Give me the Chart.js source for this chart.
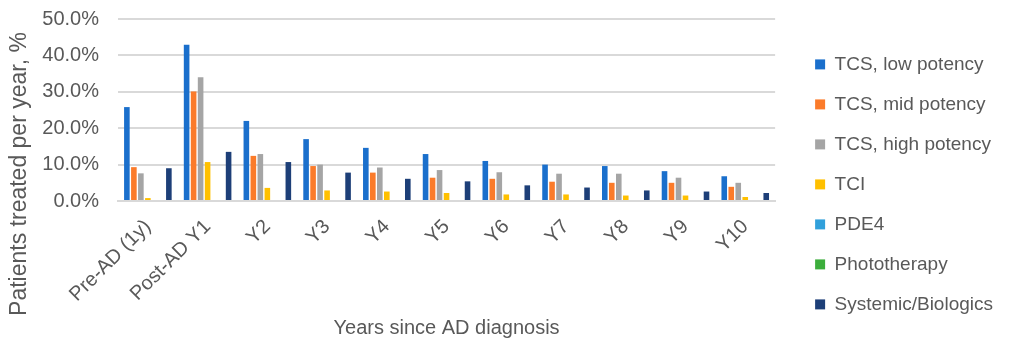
<!DOCTYPE html>
<html lang="en">
<head>
    <meta charset="UTF-8">
    <title>Treatment by year since AD diagnosis</title>
<style>
    html, body { margin: 0; padding: 0; background: #ffffff; }
    #chart-container { width: 1009px; height: 347px; }
</style>
</head>
<body>
    <div id="chart-container">
        <canvas id="treatChart"></canvas>
    </div>

    <script src="https://cdn.jsdelivr.net/npm/chart.js"></script>
    <script>
        // categories
        const categories = ['Pre-AD (1y)', 'Post-AD Y1', 'Y2', 'Y3', 'Y4', 'Y5', 'Y6', 'Y7', 'Y8', 'Y9', 'Y10'];

        // % of patients treated per year
        const tcsLow    = [25.8, 42.9, 22.0, 17.0, 14.6, 12.9, 11.0, 10.0, 9.6, 8.2, 6.8];
        const tcsMid    = [9.3, 30.1, 12.4, 9.6, 7.8, 6.4, 6.1, 5.3, 5.0, 5.0, 3.9];
        const tcsHigh   = [7.6, 34.0, 12.9, 10.0, 9.2, 8.5, 7.9, 7.5, 7.5, 6.4, 5.0];
        const tci       = [0.8, 10.7, 3.6, 2.9, 2.6, 2.2, 1.8, 1.8, 1.5, 1.5, 1.1];
        const pde4      = [0, 0, 0, 0, 0, 0, 0, 0, 0, 0, 0];
        const photo     = [0, 0, 0, 0, 0, 0, 0, 0, 0, 0, 0];
        const systemic  = [9.0, 13.5, 10.7, 7.8, 6.1, 5.4, 4.3, 3.7, 2.9, 2.6, 2.2];

        const yTicks = [0, 10, 20, 30, 40, 50];

        const textGray = '#595959';
        const fontFamily = 'Arial, "Liberation Sans", sans-serif';

        function makeSet(label, data, color) {
            return {
                label: label,
                data: data,
                backgroundColor: color,
                borderWidth: 0,
                categoryPercentage: 0.82,
                barPercentage: 0.8
            };
        }

        // y title drawn by hand so it can sit centred on the whole canvas height
        const yTitlePlugin = {
            id: 'yTitle',
            afterLayout(chart) {
                // leave a gap between plot and legend
                chart.legend.left += 19;
                chart.legend.right += 19;
            },
            afterDraw(chart) {
                const c = chart.ctx;
                c.save();
                c.translate(20, 174);
                c.rotate(-Math.PI / 2);
                c.textAlign = 'center';
                c.textBaseline = 'middle';
                c.fillStyle = textGray;
                c.font = '23px ' + fontFamily;
                c.fillText('Patients treated per year, %', 0, 0);
                c.restore();
            }
        };

        const ctx = document.getElementById('treatChart').getContext('2d');
        new Chart(ctx, {
            type: 'bar',
            data: {
                labels: categories,
                datasets: [
                    makeSet('TCS, low potency', tcsLow, '#1a6fcc'),
                    makeSet('TCS, mid potency', tcsMid, '#fb7b2a'),
                    makeSet('TCS, high potency', tcsHigh, '#a5a5a5'),
                    makeSet('TCI', tci, '#ffc000'),
                    makeSet('PDE4', pde4, '#31a0db'),
                    makeSet('Phototherapy', photo, '#3cae3c'),
                    makeSet('Systemic/Biologics', systemic, '#1d3f78')
                ]
            },
            options: {
                responsive: true,
                maintainAspectRatio: false,
                animation: false,
                layout: { padding: { top: 19, right: 25, left: 0, bottom: 4 } },
                scales: {
                    x: {
                        afterFit: axis => { axis.height = 142; },
                        grid: { display: false, drawTicks: false },
                        border: { display: true, color: '#d9d9d9', width: 2 },
                        ticks: {
                            color: textGray,
                            font: { family: fontFamily, size: 20 },
                            minRotation: 45,
                            maxRotation: 45,
                            padding: 14
                        },
                        title: {
                            display: true,
                            text: 'Years since AD diagnosis',
                            color: textGray,
                            font: { family: fontFamily, size: 20 },
                            padding: { top: 0, bottom: 3 }
                        }
                    },
                    y: {
                        min: 0,
                        max: 50,
                        afterBuildTicks: axis => {
                            axis.ticks = yTicks.map(v => ({ value: v }));
                        },
                        afterFit: axis => {
                            axis.width = 118;
                            axis.paddingTop = 0;
                        },
                        grid: { color: '#d9d9d9', lineWidth: 2, drawTicks: false },
                        border: { display: false },
                        ticks: {
                            color: textGray,
                            font: { family: fontFamily, size: 20 },
                            padding: 19,
                            callback: v => v.toFixed(1) + '%'
                        }
                    }
                },
                plugins: {
                    legend: {
                        position: 'right',
                        title: {
                            display: true,
                            text: ' ',
                            font: { size: 4 },
                            padding: 1
                        },
                        labels: {
                            color: textGray,
                            font: { family: fontFamily, size: 19 },
                            boxWidth: 10,
                            boxHeight: 10,
                            padding: 21
                        }
                    },
                    tooltip: { enabled: false }
                }
            },
            plugins: [yTitlePlugin]
        });
    </script>
</body>
</html>
